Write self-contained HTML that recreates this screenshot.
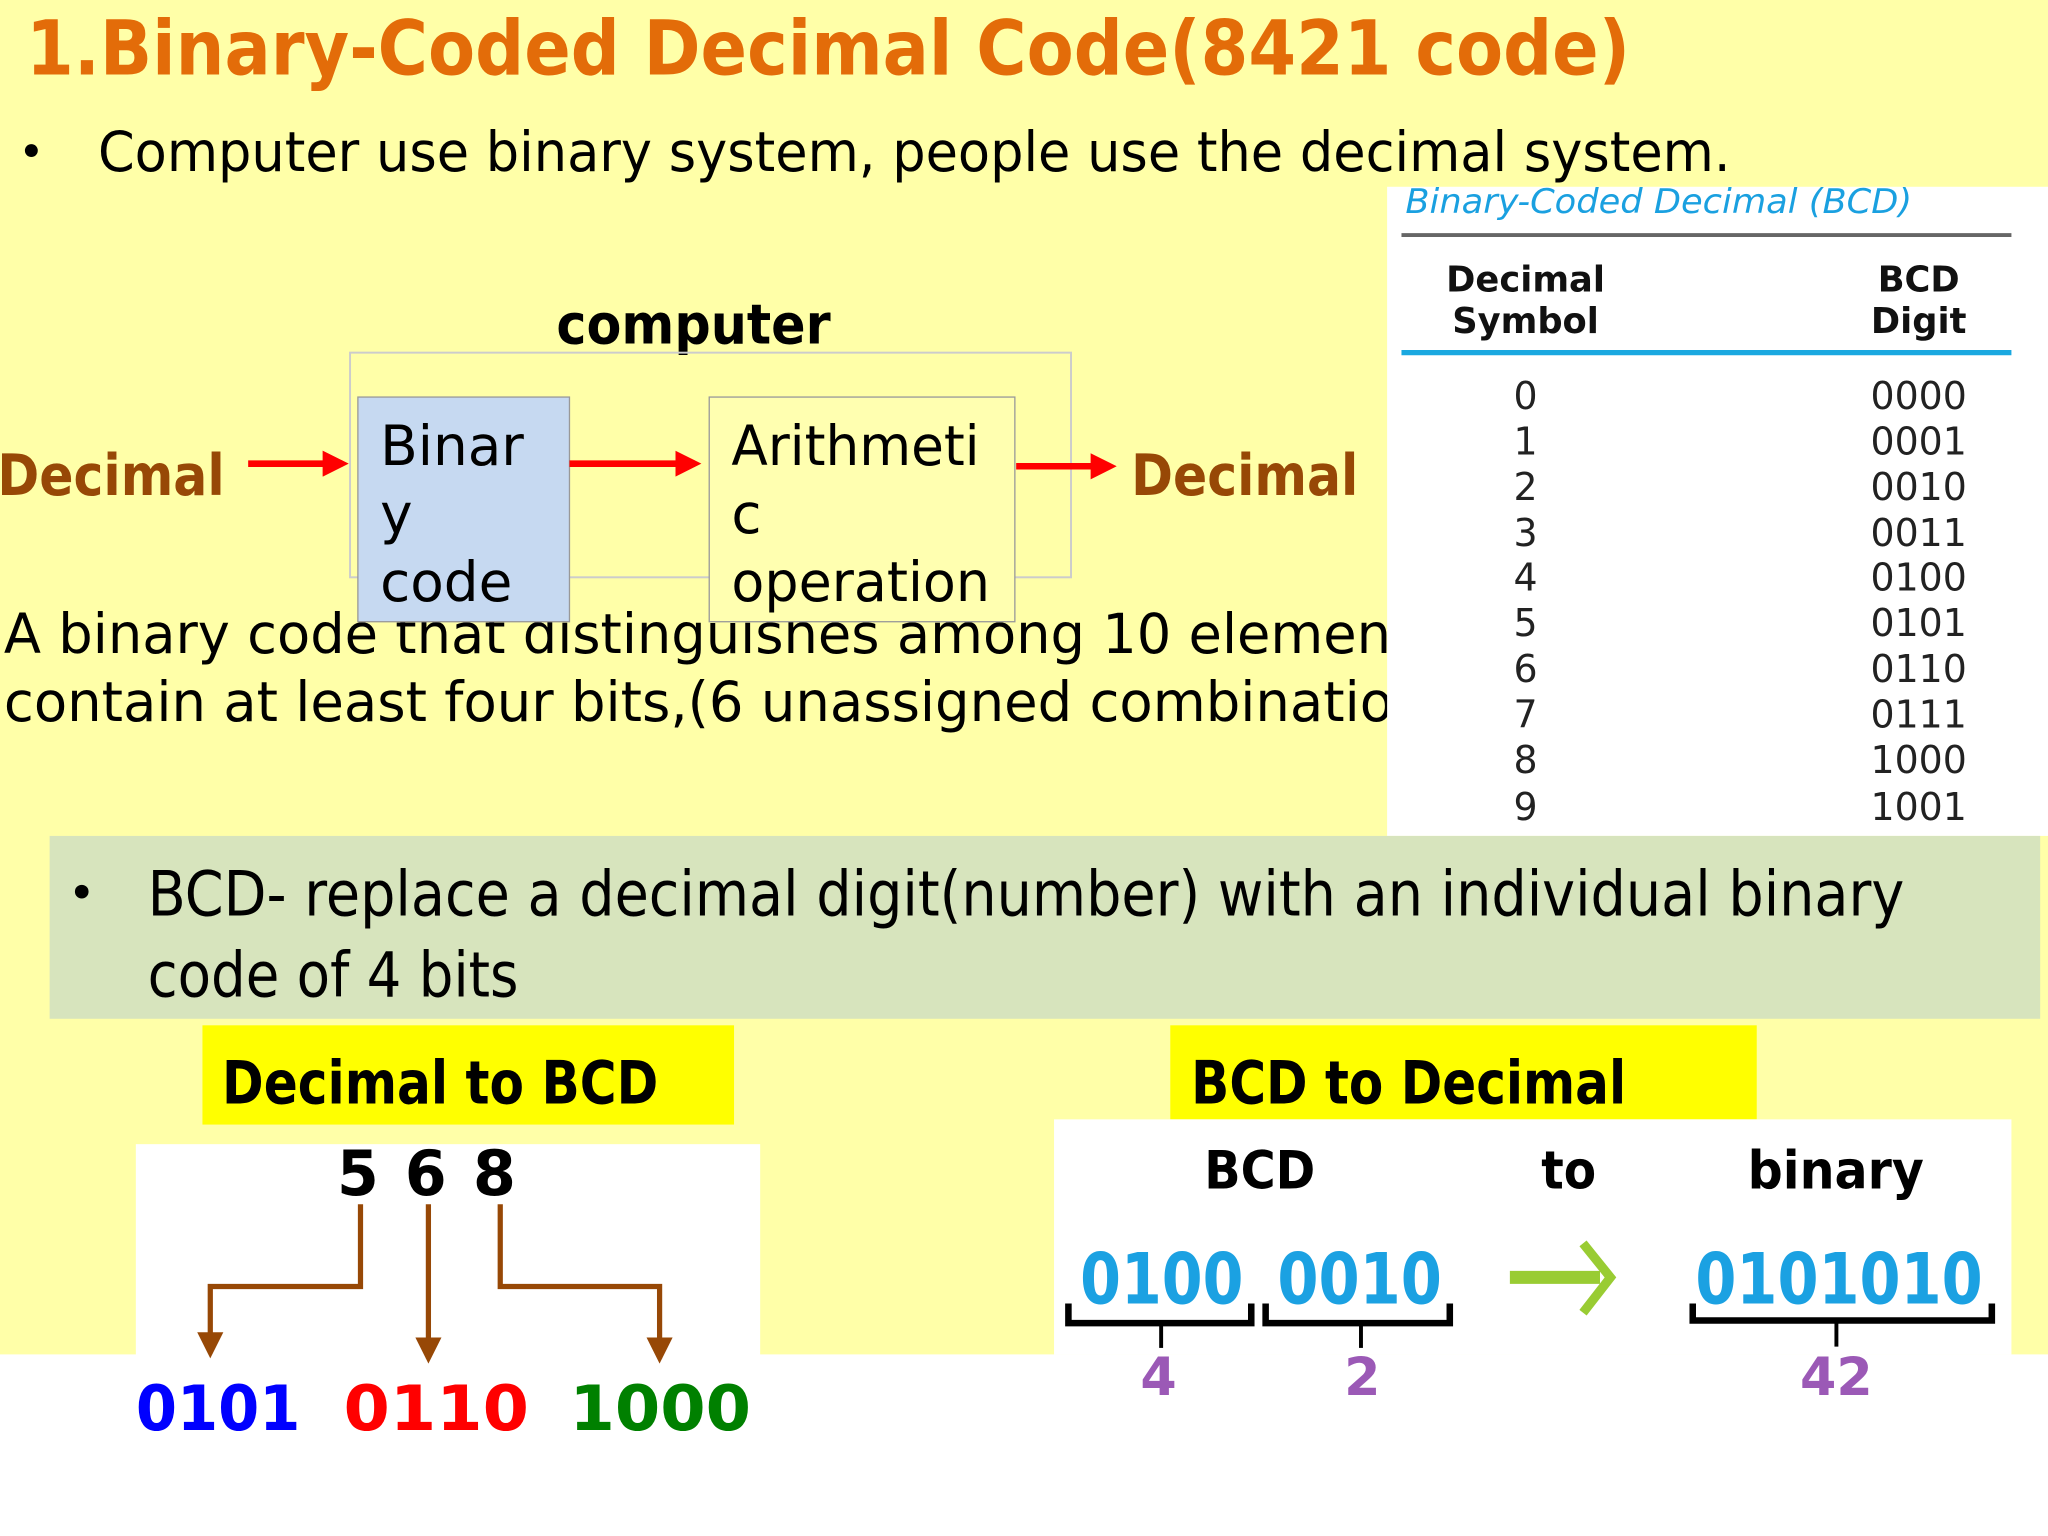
<!DOCTYPE html>
<html><head><meta charset="utf-8"><style>
html,body{margin:0;padding:0;background:#fff;}
svg{display:block;}
text{font-family:"DejaVu Sans","Liberation Sans",sans-serif;}
</style></head><body>
<svg width="2048" height="1536" viewBox="0 0 1568 1176" preserveAspectRatio="none" xmlns="http://www.w3.org/2000/svg">
<defs>
<marker id="ra" markerWidth="4" markerHeight="4" refX="3" refY="2" orient="auto" markerUnits="strokeWidth"><path d="M0,0 L4,2 L0,4 Z" fill="#ff0000"/></marker>
<marker id="ba" markerWidth="5" markerHeight="5" refX="4" refY="2.5" orient="auto" markerUnits="strokeWidth"><path d="M0,0 L5,2.5 L0,5 Z" fill="#974806"/></marker>
</defs>
<rect x="0" y="0" width="1568" height="1037" fill="#ffffa8"/>
<rect x="0" y="1037" width="1568" height="139" fill="#ffffff"/>

<text x="20" y="57" font-size="58" font-weight="bold" fill="#e36c09" textLength="1228" lengthAdjust="spacingAndGlyphs">1.Binary-Coded Decimal Code(8421 code)</text>
<text x="14" y="128" font-size="34" fill="#000">•</text>
<text x="75" y="131" font-size="42" fill="#000" textLength="1250" lengthAdjust="spacingAndGlyphs">Computer use binary system, people use the decimal system.</text>

<!-- paragraph behind boxes -->
<text x="3" y="500" font-size="42" fill="#000" textLength="1100" lengthAdjust="spacingAndGlyphs">A binary code that distinguishes among 10 elements</text>
<text x="3" y="552" font-size="42" fill="#000" textLength="1090" lengthAdjust="spacingAndGlyphs">contain at least four bits,(6 unassigned combination</text>

<!-- computer diagram -->
<text x="531" y="263" font-size="42" font-weight="bold" fill="#000" text-anchor="middle" textLength="210" lengthAdjust="spacingAndGlyphs">computer</text>
<rect x="268" y="270" width="552" height="172" fill="none" stroke="#cccccc" stroke-width="1.5"/>
<rect x="274" y="304" width="162" height="172" fill="#c6d9f1" stroke="#999" stroke-width="1"/>
<text x="291" y="356" font-size="42" fill="#000">Binar</text>
<text x="291" y="408" font-size="42" fill="#000">y</text>
<text x="291" y="460" font-size="42" fill="#000">code</text>
<rect x="543" y="304" width="234" height="172" fill="#ffffb0" stroke="#999" stroke-width="1"/>
<text x="560" y="356" font-size="42" fill="#000" textLength="190" lengthAdjust="spacingAndGlyphs">Arithmeti</text>
<text x="560" y="408" font-size="42" fill="#000">c</text>
<text x="560" y="460" font-size="42" fill="#000" textLength="198" lengthAdjust="spacingAndGlyphs">operation</text>
<text x="-2" y="379" font-size="44" font-weight="bold" fill="#974806" textLength="174" lengthAdjust="spacingAndGlyphs">Decimal</text>
<text x="866" y="379" font-size="44" font-weight="bold" fill="#974806" textLength="174" lengthAdjust="spacingAndGlyphs">Decimal</text>
<line x1="190" y1="355" x2="262" y2="355" stroke="#ff0000" stroke-width="5" marker-end="url(#ra)"/>
<line x1="436" y1="355" x2="532" y2="355" stroke="#ff0000" stroke-width="5" marker-end="url(#ra)"/>
<line x1="778" y1="357" x2="850" y2="357" stroke="#ff0000" stroke-width="5" marker-end="url(#ra)"/>

<!-- table -->
<rect x="1062" y="143" width="506" height="497" fill="#fff"/>
<text x="1076" y="163" font-size="26" font-style="italic" fill="#1aa0e0" textLength="388" lengthAdjust="spacingAndGlyphs">Binary-Coded Decimal (BCD)</text>
<line x1="1073" y1="180" x2="1540" y2="180" stroke="#666" stroke-width="3"/>
<g font-size="27" font-weight="bold" fill="#111" text-anchor="middle">
<text x="1168" y="223">Decimal</text><text x="1168" y="255">Symbol</text>
<text x="1469" y="223">BCD</text><text x="1469" y="255">Digit</text>
</g>
<line x1="1073" y1="270" x2="1540" y2="270" stroke="#1aa8e0" stroke-width="4"/>
<g font-family="Liberation Serif, serif" font-size="29" fill="#222" text-anchor="middle" style="font-family:'Liberation Serif',serif">
<text x="1168" y="313">0</text><text x="1469" y="313">0000</text>
<text x="1168" y="348">1</text><text x="1469" y="348">0001</text>
<text x="1168" y="383">2</text><text x="1469" y="383">0010</text>
<text x="1168" y="418">3</text><text x="1469" y="418">0011</text>
<text x="1168" y="452">4</text><text x="1469" y="452">0100</text>
<text x="1168" y="487">5</text><text x="1469" y="487">0101</text>
<text x="1168" y="522">6</text><text x="1469" y="522">0110</text>
<text x="1168" y="557">7</text><text x="1469" y="557">0111</text>
<text x="1168" y="592">8</text><text x="1469" y="592">1000</text>
<text x="1168" y="628">9</text><text x="1469" y="628">1001</text>
</g>

<!-- green band -->
<rect x="38" y="640" width="1524" height="140" fill="#d7e4bd"/>
<text x="52" y="696" font-size="36" fill="#000">•</text>
<text x="113" y="701" font-size="48" fill="#000" textLength="1345" lengthAdjust="spacingAndGlyphs">BCD- replace a decimal digit(number) with an individual binary</text>
<text x="113" y="763" font-size="48" fill="#000" textLength="284" lengthAdjust="spacingAndGlyphs">code of 4 bits</text>

<!-- yellow labels -->
<rect x="155" y="785" width="407" height="76" fill="#ffff00"/>
<text x="170" y="845" font-size="46" font-weight="bold" fill="#000" textLength="334" lengthAdjust="spacingAndGlyphs">Decimal to BCD</text>
<rect x="896" y="785" width="449" height="72" fill="#ffff00"/>
<text x="912" y="845" font-size="46" font-weight="bold" fill="#000" textLength="333" lengthAdjust="spacingAndGlyphs">BCD to Decimal</text>

<!-- left panel -->
<rect x="104" y="876" width="478" height="170" fill="#fff"/>
<g font-size="48" font-weight="bold" fill="#000">
<text x="258" y="915" textLength="32" lengthAdjust="spacingAndGlyphs">5</text>
<text x="310" y="915" textLength="32" lengthAdjust="spacingAndGlyphs">6</text>
<text x="362" y="915" textLength="33" lengthAdjust="spacingAndGlyphs">8</text>
</g>
<g fill="none" stroke="#974806" stroke-width="4">
<polyline points="276,922 276,985 161,985 161,1036" marker-end="url(#ba)"/>
<polyline points="328,922 328,1040" marker-end="url(#ba)"/>
<polyline points="383,922 383,985 505,985 505,1040" marker-end="url(#ba)"/>
</g>
<g font-size="48" font-weight="bold" font-family="Liberation Mono, monospace" style="font-family:'Liberation Mono',monospace">
<text x="104" y="1095" fill="#0000ff" textLength="126" lengthAdjust="spacingAndGlyphs">0101</text>
<text x="263" y="1095" fill="#ff0000" textLength="142" lengthAdjust="spacingAndGlyphs">0110</text>
<text x="436" y="1095" fill="#008000" textLength="139" lengthAdjust="spacingAndGlyphs">1000</text>
</g>

<!-- right panel -->
<rect x="807" y="857" width="733" height="180" fill="#fff"/>
<g font-size="40" font-weight="bold" fill="#000">
<text x="922" y="910" textLength="85" lengthAdjust="spacingAndGlyphs">BCD</text>
<text x="1180" y="910" textLength="42" lengthAdjust="spacingAndGlyphs">to</text>
<text x="1338" y="910" textLength="135" lengthAdjust="spacingAndGlyphs">binary</text>
</g>
<g font-size="54" font-weight="bold" fill="#1ba1e2">
<text x="827" y="998" textLength="125" lengthAdjust="spacingAndGlyphs">0100</text>
<text x="978" y="998" textLength="126" lengthAdjust="spacingAndGlyphs">0010</text>
<text x="1298" y="998" textLength="220" lengthAdjust="spacingAndGlyphs">0101010</text>
</g>
<line x1="1156" y1="978" x2="1225" y2="978" stroke="#99cc33" stroke-width="10"/>
<polyline points="1212,952 1233,978 1212,1005" fill="none" stroke="#99cc33" stroke-width="7"/>
<g fill="none" stroke="#000" stroke-width="5">
<polyline points="818,998 818,1013 958,1013 958,998"/>
<line x1="889" y1="1013" x2="889" y2="1032" stroke-width="3"/>
<polyline points="969,998 969,1013 1110,1013 1110,998"/>
<line x1="1042" y1="1013" x2="1042" y2="1032" stroke-width="3"/>
<polyline points="1296,998 1296,1011 1525,1011 1525,998"/>
<line x1="1406" y1="1011" x2="1406" y2="1031" stroke-width="3"/>
</g>
<g font-size="40" font-weight="bold" fill="#9b59b6" text-anchor="middle">
<text x="887" y="1068">4</text>
<text x="1043" y="1068">2</text>
<text x="1406" y="1068">42</text>
</g>
</svg>
</body></html>
